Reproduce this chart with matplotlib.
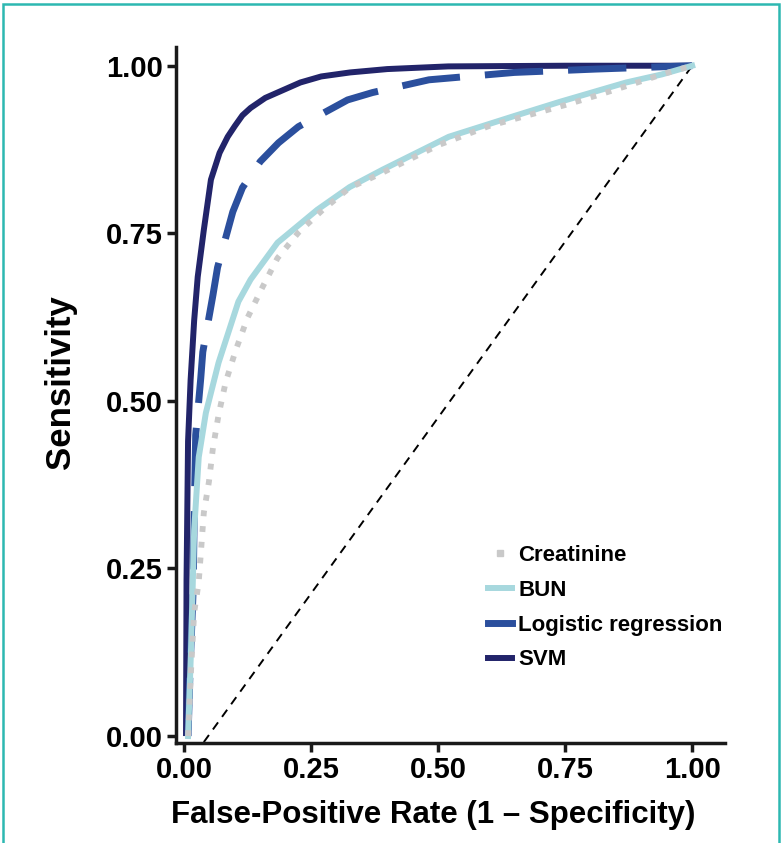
import numpy as np
import matplotlib.pyplot as plt
from matplotlib.lines import Line2D
from matplotlib.patches import Rectangle

plt.rcParams['font.family'] = ['Liberation Sans', 'DejaVu Sans']
plt.rcParams['font.weight'] = 'bold'
plt.rcParams['axes.labelweight'] = 'bold'

# ROC curves (false-positive rate, sensitivity)
svm_fpr = [0.004, 0.005, 0.008, 0.013, 0.02, 0.027, 0.039, 0.053, 0.07, 0.086, 0.1, 0.115, 0.131, 0.16,
           0.19, 0.229, 0.27, 0.327, 0.4, 0.52, 0.75, 1.0]
svm_tpr = [0.0, 0.233, 0.44, 0.531, 0.62, 0.685, 0.755, 0.83, 0.87, 0.894, 0.91, 0.926, 0.937, 0.952,
           0.962, 0.975, 0.984, 0.99, 0.995, 0.999, 1.0, 1.0]

logreg_fpr = [0.008, 0.012, 0.018, 0.02, 0.023, 0.033, 0.037, 0.057, 0.066, 0.096, 0.115, 0.15, 0.186, 0.225,
              0.322, 0.371, 0.482, 0.65, 0.81, 1.0]
logreg_tpr = [0.0, 0.1, 0.218, 0.325, 0.449, 0.534, 0.573, 0.658, 0.699, 0.782, 0.818, 0.857, 0.885, 0.909,
              0.949, 0.96, 0.979, 0.99, 0.995, 1.0]

bun_fpr = [0.008, 0.014, 0.02, 0.029, 0.043, 0.068, 0.107, 0.131, 0.184, 0.262, 0.326, 0.391, 0.521,
           0.65, 0.739, 0.87, 0.94, 1.0]
bun_tpr = [0.0, 0.133, 0.307, 0.416, 0.482, 0.557, 0.648, 0.681, 0.736, 0.785, 0.819, 0.845, 0.894,
           0.925, 0.946, 0.975, 0.987, 1.0]

creat_fpr = [0.008, 0.014, 0.02, 0.029, 0.039, 0.049, 0.057, 0.068, 0.082, 0.102, 0.125, 0.154, 0.184,
             0.225, 0.273, 0.326, 0.381, 0.443, 0.502, 0.6, 0.753, 0.818, 0.88, 0.94, 1.0]
creat_tpr = [0.0, 0.1, 0.184, 0.23, 0.333, 0.379, 0.43, 0.479, 0.528, 0.576, 0.624, 0.669, 0.713,
             0.751, 0.785, 0.818, 0.837, 0.86, 0.882, 0.91, 0.942, 0.957, 0.972, 0.987, 1.0]

diag_x = [0.039, 1.0]
diag_y = [-0.009, 1.0]

ticks = [0.0, 0.25, 0.5, 0.75, 1.0]
tick_labels = ['0.00', '0.25', '0.50', '0.75', '1.00']

c_svm = '#22246a'
c_log = '#2b4f9d'
c_bun = '#a7d8de'
c_creat = '#c9c9c9'

fig = plt.figure(figsize=(7.83, 8.43), dpi=100)
ax = fig.add_axes([0.2248, 0.1186, 0.7014, 0.8257])

ax.plot(diag_x, diag_y, color='black', lw=1.4, dashes=(4.5, 3.5))
ax.plot(svm_fpr, svm_tpr, color=c_svm, lw=4.3, solid_capstyle='butt', solid_joinstyle='round')
ax.plot(logreg_fpr, logreg_tpr, color=c_log, lw=5, dashes=(8.4, 3.6), dash_capstyle='butt')
ax.plot(bun_fpr, bun_tpr, color=c_bun, lw=4.3)
ax.plot(creat_fpr, creat_tpr, color=c_creat, lw=4.2, dashes=(1, 1.7), dash_capstyle='butt')

ax.set_xlim(-0.0157, 1.065)
ax.set_ylim(-0.0104, 1.028)
ax.set_xticks(ticks)
ax.set_xticklabels(tick_labels)
ax.set_yticks(ticks)
ax.set_yticklabels(tick_labels)
ax.tick_params(labelsize=21, width=2.5, length=6.5, pad=3, color='#1a1a1a')

for side in ['top', 'right']:
    ax.spines[side].set_visible(False)
for side in ['left', 'bottom']:
    ax.spines[side].set_linewidth(2.5)
    ax.spines[side].set_color('#1a1a1a')

ax.set_xlabel('False-Positive Rate (1 – Specificity)', fontsize=22.5)
ax.set_ylabel('Sensitivity', fontsize=25)
ax.xaxis.set_label_coords(0.469, -0.082)
ax.yaxis.set_label_coords(-0.18, 0.519)

handles = [
    Line2D([], [], ls='none', marker='s', ms=4.5, color=c_creat),
    Line2D([], [], color=c_bun, lw=4.3),
    Line2D([], [], color=c_log, lw=5),
    Line2D([], [], color=c_svm, lw=4.3),
]
labels = ['Creatinine', 'BUN', 'Logistic regression', 'SVM']
fig.legend(handles, labels, loc='upper left', bbox_to_anchor=(488 / 783, 1 - 545 / 843),
           frameon=False, fontsize=16, handlelength=1.1, handletextpad=0.25,
           labelspacing=0.62, borderpad=0, borderaxespad=0)

# teal frame around the figure (open at the bottom)
fig.add_artist(Rectangle((0.0038, -0.1), 0.9911, 1.0953, transform=fig.transFigure,
                         fill=False, edgecolor='#2db8b1', lw=1.8))

fig.savefig('out.png', dpi=100)
